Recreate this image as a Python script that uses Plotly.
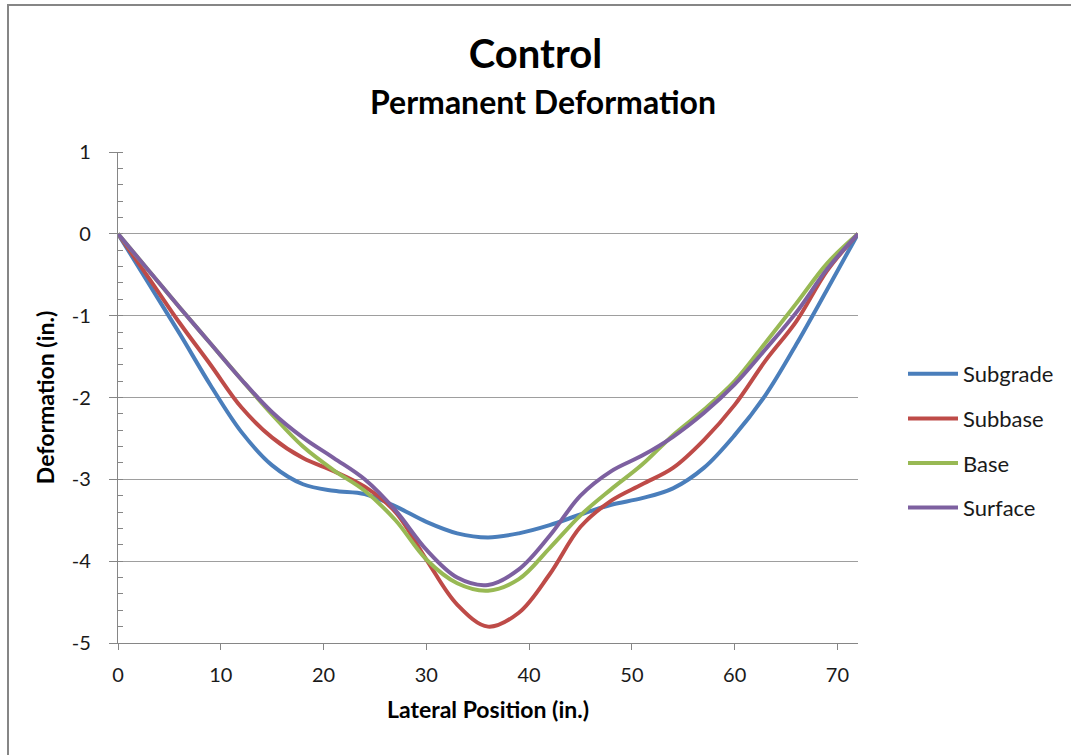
import plotly.graph_objects as go

x_pos = [0, 3, 6, 9, 12, 15, 18, 21, 24, 27, 30, 33, 36, 39, 42, 45, 48, 51, 54, 57, 60, 63, 66, 69, 72]

subgrade = [0, -0.61, -1.22, -1.85, -2.42, -2.83, -3.06, -3.14, -3.18, -3.33, -3.52, -3.66, -3.71,
            -3.66, -3.56, -3.43, -3.31, -3.23, -3.11, -2.86, -2.46, -1.97, -1.35, -0.68, 0]
subbase = [0, -0.54, -1.09, -1.60, -2.12, -2.49, -2.74, -2.90, -3.09, -3.40, -3.98, -4.53, -4.80,
           -4.63, -4.16, -3.58, -3.26, -3.06, -2.86, -2.52, -2.09, -1.55, -1.07, -0.45, 0]
base = [0, -0.45, -0.90, -1.34, -1.78, -2.21, -2.60, -2.89, -3.14, -3.50, -3.98, -4.27, -4.36,
        -4.22, -3.84, -3.44, -3.12, -2.82, -2.46, -2.15, -1.80, -1.33, -0.85, -0.36, 0]
surface = [0, -0.45, -0.90, -1.34, -1.78, -2.18, -2.49, -2.74, -3.00, -3.38, -3.86, -4.20, -4.29,
           -4.10, -3.69, -3.20, -2.90, -2.71, -2.48, -2.19, -1.84, -1.41, -0.96, -0.43, 0]

series_names = ["Subgrade", "Subbase", "Base", "Surface"]
series_vals = [subgrade, subbase, base, surface]
colors = ["#4A7EBB", "#BE4B48", "#98B954", "#7D60A0"]

y_ticks = [1, 0, -1, -2, -3, -4, -5]
y_tick_labels = ["1", "0", "-1", "-2", "-3", "-4", "-5"]
x_ticks = [0, 10, 20, 30, 40, 50, 60, 70]

FONT = "Lato"
TXT = "#1a1a1a"

fig = go.Figure()
for name, vals, col in zip(series_names, series_vals, colors):
    fig.add_trace(go.Scatter(
        x=x_pos, y=vals, name=name, mode="lines",
        line=dict(color=col, width=4, shape="spline", smoothing=1.0),
        legendgroup=name,
    ))

L, R, T, B = 118, 213, 152, 112
W, H = 1071, 755
pw, ph = W - L - R, H - T - B

def px_x(px):
    return (px - L) / pw

def px_y(py):
    return (H - B - py) / ph

fig.update_layout(
    width=W, height=H,
    margin=dict(l=L, r=R, t=T, b=B),
    paper_bgcolor="white", plot_bgcolor="white",
    font=dict(family=FONT, color=TXT, size=20),
    showlegend=True,
    legend=dict(
        x=px_x(903), y=px_y(353), xanchor="left", yanchor="top",
        font=dict(family=FONT, size=22, color=TXT),
        tracegroupgap=13, traceorder="grouped", itemwidth=50,
        bgcolor="rgba(0,0,0,0)",
    ),
    title=dict(
        text="<b>Control</b>", x=0.5, xref="container", xanchor="center",
        y=1 - 54 / H, yref="container", yanchor="middle",
        font=dict(family=FONT, size=40, color="black"),
    ),
    annotations=[
        dict(text="<b>Permanent Deformation</b>", xref="paper", yref="paper",
             x=px_x(543), y=px_y(101), xanchor="center", yanchor="middle",
             showarrow=False, font=dict(family=FONT, size=32, color="black")),
    ],
    shapes=[
        dict(type="rect", xref="paper", yref="paper",
             x0=px_x(8), x1=px_x(1080), y0=px_y(770), y1=px_y(5),
             line=dict(color="#868686", width=2), fillcolor="rgba(0,0,0,0)", layer="below"),
    ],
)

fig.update_xaxes(
    range=[0, 72], tickvals=x_ticks,
    showgrid=False, zeroline=False,
    showline=True, linecolor="#868686", linewidth=1.3,
    ticks="outside", ticklen=6, tickcolor="#868686", tickwidth=1.3,
    tickfont=dict(family=FONT, size=20, color=TXT),
    ticklabelstandoff=8,
    title=dict(text="<b>Lateral Position (in.)</b>", font=dict(family=FONT, size=23, color="black"), standoff=16),
)

fig.update_yaxes(
    range=[-5, 1], tickvals=y_ticks, ticktext=y_tick_labels,
    showgrid=True, gridcolor="#9e9e9e", gridwidth=1.2,
    zeroline=False,
    showline=True, linecolor="#868686", linewidth=1.3,
    ticks="outside", ticklen=8, tickcolor="#868686", tickwidth=1.3,
    minor=dict(dtick=0.2, tick0=0, ticks="inside", ticklen=5, tickcolor="#868686", tickwidth=1.2, showgrid=False),
    tickfont=dict(family=FONT, size=20, color=TXT),
    ticklabelstandoff=14,
    title=dict(text="<b>Deformation (in.)</b>", font=dict(family=FONT, size=23, color="black"), standoff=10),
)

fig.write_html("out.html")
